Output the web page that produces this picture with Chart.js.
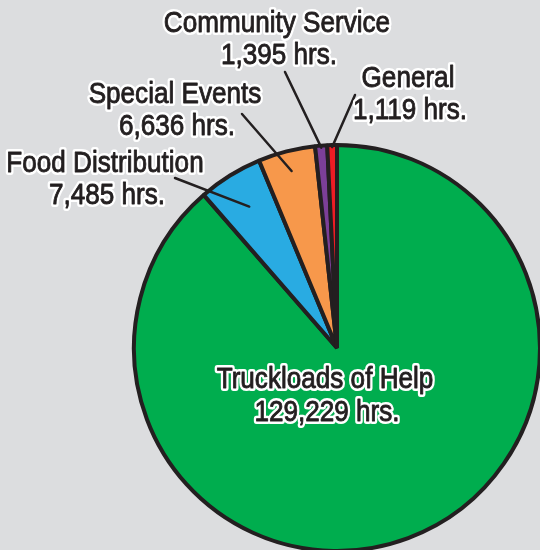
<!DOCTYPE html>
<html>
<head>
<meta charset="utf-8">
<script src="https://cdn.jsdelivr.net/npm/chart.js@4.4.1/dist/chart.umd.min.js"></script>
<style>
  html, body { margin: 0; padding: 0; background: #dcdddf; overflow: hidden; }
  canvas { display: block; }
</style>
</head>
<body>
<canvas id="pie" width="540" height="550"></canvas>
<script>
// hours by program
const programs = ['Truckloads of Help', 'Food Distribution', 'Special Events', 'Community Service', 'General'];
const hours = [129229, 7485, 6636, 1395, 1119];
const sliceColors = ['#00ad4e', '#29abe2', '#f7984b', '#7c3f98', '#ed1c24'];

// label placement: [x, y of first line, leader start x, y, leader end radius fraction] (null = no leader)
const labelSpots = [
  [325, 388, null],
  [105, 172, [175, 178, 0.82]],
  [175, 103, [242, 114, 0.9]],
  [277, 32, [285, 72, 0.99]],
  [408, 87, [355, 95, 0.99]]
];

const ink = '#231f20';
const labelFont = '30px "Liberation Sans", Arial, sans-serif';
const squeeze = 0.87; // fake a condensed face

function fmt(n) {
  return n.toLocaleString('en-US') + ' hrs.';
}

function outlined(ctx, text, x, y) {
  ctx.save();
  ctx.translate(x, y);
  ctx.scale(squeeze, 1);
  ctx.lineWidth = 6;
  ctx.strokeStyle = '#ffffff';
  ctx.strokeText(text, 0, 0);
  ctx.fillText(text, 0, 0);
  ctx.lineWidth = 0.9;
  ctx.strokeStyle = ink;
  ctx.strokeText(text, 0, 0);
  ctx.restore();
}

const labelPlugin = {
  id: 'pieLabels',
  afterDatasetsDraw(chart) {
    const ctx = chart.ctx;
    const arcs = chart.getDatasetMeta(0).data;
    ctx.save();
    // leaders first
    ctx.strokeStyle = ink;
    ctx.lineWidth = 2.5;
    ctx.lineCap = 'round';
    arcs.forEach((arc, i) => {
      const lead = labelSpots[i][2];
      if (!lead) return;
      const p = arc.getProps(['x', 'y', 'startAngle', 'endAngle', 'outerRadius'], true);
      const mid = (p.startAngle + p.endAngle) / 2;
      const r = p.outerRadius * lead[2];
      ctx.beginPath();
      ctx.moveTo(lead[0], lead[1]);
      ctx.lineTo(p.x + Math.cos(mid) * r, p.y + Math.sin(mid) * r);
      ctx.stroke();
    });
    ctx.font = labelFont;
    ctx.textAlign = 'center';
    ctx.textBaseline = 'alphabetic';
    ctx.lineJoin = 'round';
    ctx.fillStyle = ink;
    programs.forEach((name, i) => {
      const [x, y] = labelSpots[i];
      const gap = i === 0 ? 33 : 32;
      outlined(ctx, name, x, y);
      outlined(ctx, fmt(hours[i]), x + 2, y + gap);
    });
    ctx.restore();
  }
};

new Chart(document.getElementById('pie'), {
  type: 'pie',
  data: {
    labels: programs,
    datasets: [{
      data: hours,
      backgroundColor: sliceColors,
      borderColor: ink,
      borderWidth: 4,
      clip: false
    }]
  },
  options: {
    responsive: false,
    animation: false,
    events: [],
    radius: 203,
    layout: { padding: { left: 134, right: 0, top: 146, bottom: 0 } },
    plugins: {
      legend: { display: false },
      tooltip: { enabled: false }
    }
  },
  plugins: [labelPlugin]
});
</script>
</body>
</html>
